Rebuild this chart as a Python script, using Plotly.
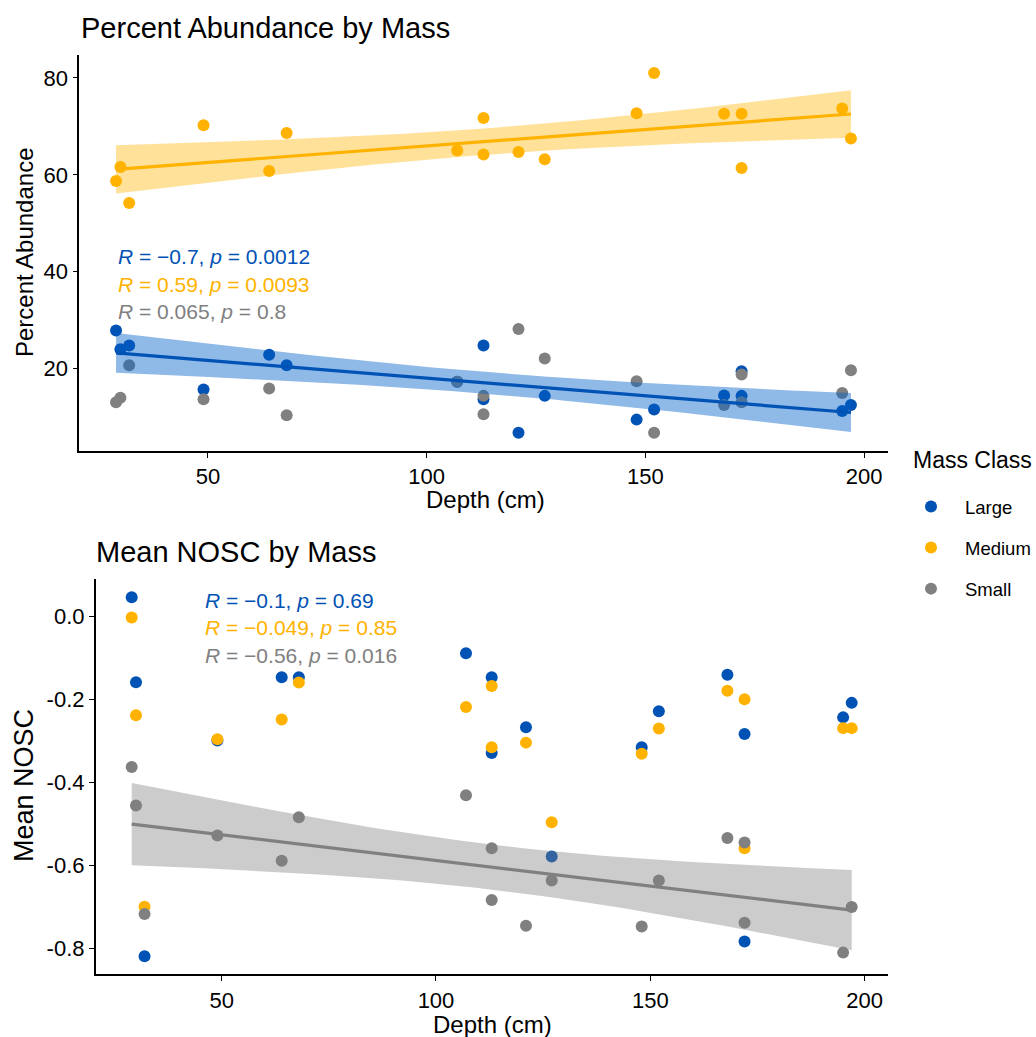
import numpy as np
import plotly.graph_objects as go

# ---------------- data ----------------
depth = [29, 30, 32, 49, 64, 68, 107, 113, 113, 121, 127, 148, 152, 168, 172, 172, 195, 197]

abund_large = [27.9, 24.0, 24.8, 15.7, 22.9, 20.7, 17.3, 13.7, 24.8, 6.8, 14.4, 9.5, 11.6, 14.5, 14.4, 19.5, 11.3, 12.5]
abund_medium = [58.7, 61.6, 54.2, 70.2, 60.8, 68.6, 65.0, 71.7, 64.2, 64.7, 63.2, 72.7, 81.0, 72.6, 72.6, 61.4, 73.7, 67.5]
abund_small = [13.1, 14.0, 20.7, 13.7, 15.9, 10.4, 17.3, 14.4, 10.6, 28.2, 22.1, 17.4, 6.8, 12.5, 13.1, 18.8, 15.0, 19.7]

nosc_large = [0.047, -0.158, -0.82, -0.299, -0.146, -0.146, -0.088, -0.146, -0.329, -0.267, -0.579, -0.315, -0.228, -0.14, -0.283, -0.784, -0.243, -0.208]
nosc_medium = [-0.002, -0.238, -0.70, -0.296, -0.248, -0.159, -0.218, -0.167, -0.315, -0.304, -0.496, -0.331, -0.27, -0.179, -0.199, -0.559, -0.269, -0.269]
nosc_small = [-0.363, -0.456, -0.718, -0.528, -0.589, -0.484, -0.431, -0.559, -0.684, -0.746, -0.637, -0.748, -0.637, -0.534, -0.545, -0.739, -0.811, -0.701]

classes = ["Large", "Medium", "Small"]
colors = {"Large": "#0052B4", "Medium": "#FFB300", "Small": "#808080"}
fills = {"Large": "rgba(0,95,200,0.44)", "Medium": "rgba(255,179,0,0.4)", "Small": "rgba(128,128,128,0.4)"}

top_stats = {"Large": "<i>R</i> = \u22120.7, <i>p</i> = 0.0012",
             "Medium": "<i>R</i> = 0.59, <i>p</i> = 0.0093",
             "Small": "<i>R</i> = 0.065, <i>p</i> = 0.8"}
bot_stats = {"Large": "<i>R</i> = \u22120.1, <i>p</i> = 0.69",
             "Medium": "<i>R</i> = \u22120.049, <i>p</i> = 0.85",
             "Small": "<i>R</i> = \u22120.56, <i>p</i> = 0.016"}

top_smooth = ["Large", "Medium"]
bot_smooth = ["Small"]

T_CRIT = 2.1199  # t(0.975, df=16)

W, H = 1036, 1037
FONT = "Liberation Sans, Arial, sans-serif"


def px_x(p):
    return p / W


def px_y(p):
    return 1 - p / H


def lm_band(x, y, n_pts=80):
    x = np.asarray(x, float)
    y = np.asarray(y, float)
    n = len(x)
    b, a = np.polyfit(x, y, 1)
    resid = y - (a + b * x)
    s = np.sqrt(np.sum(resid ** 2) / (n - 2))
    xbar = x.mean()
    sxx = np.sum((x - xbar) ** 2)
    xs = np.linspace(x.min(), x.max(), n_pts)
    fit = a + b * xs
    se = s * np.sqrt(1 / n + (xs - xbar) ** 2 / sxx)
    return xs, fit, fit - T_CRIT * se, fit + T_CRIT * se


fig = go.Figure()

panels = [
    ("x", "y", {"Large": abund_large, "Medium": abund_medium, "Small": abund_small}, top_smooth, True),
    ("x2", "y2", {"Large": nosc_large, "Medium": nosc_medium, "Small": nosc_small}, bot_smooth, False),
]

ranges = []
for xa, ya, series, smooth, show in panels:
    ymin = min(min(v) for v in series.values())
    ymax = max(max(v) for v in series.values())
    for c in classes:
        fig.add_trace(go.Scatter(
            x=depth, y=series[c], mode="markers", name=c, xaxis=xa, yaxis=ya,
            marker=dict(color=colors[c], size=12, line=dict(width=0)),
            legendgroup=c, showlegend=show))
    bands = {}
    for c in smooth:
        xs, fit, lo, hi = lm_band(depth, series[c])
        bands[c] = (xs, fit)
        ymin = min(ymin, lo.min())
        ymax = max(ymax, hi.max())
        fig.add_trace(go.Scatter(
            x=list(xs) + list(xs[::-1]), y=list(hi) + list(lo[::-1]),
            fill="toself", fillcolor=fills[c], line=dict(width=0),
            mode="lines", xaxis=xa, yaxis=ya, showlegend=False, hoverinfo="skip"))
    for c in smooth:
        xs, fit = bands[c]
        fig.add_trace(go.Scatter(
            x=xs, y=fit, mode="lines", line=dict(color=colors[c], width=3.2),
            xaxis=xa, yaxis=ya, showlegend=False))
    span = ymax - ymin
    ranges.append([ymin - 0.05 * span, ymax + 0.05 * span])

xspan = max(depth) - min(depth)
xrange = [min(depth) - 0.05 * xspan, max(depth) + 0.05 * xspan]

axis_common = dict(showgrid=False, zeroline=False, showline=True, linecolor="black", linewidth=1.6,
                   ticks="outside", ticklen=5, tickwidth=1.4, tickcolor="black",
                   tickfont=dict(family=FONT, size=22, color="black"))

fig.update_layout(
    width=W, height=H, margin=dict(l=0, r=0, t=0, b=0),
    paper_bgcolor="white", plot_bgcolor="white",
    font=dict(family=FONT, color="black"),
    xaxis=dict(domain=[px_x(79.3), px_x(887.7)], anchor="y", range=xrange,
               tickvals=[50, 100, 150, 200], **axis_common),
    yaxis=dict(domain=[px_y(450.7), px_y(55)], anchor="x", range=ranges[0],
               tickvals=[20, 40, 60, 80], **axis_common),
    xaxis2=dict(domain=[px_x(95.7), px_x(887.7)], anchor="y2", range=xrange,
                tickvals=[50, 100, 150, 200], **axis_common),
    yaxis2=dict(domain=[px_y(974.3), px_y(579.3)], anchor="x2", range=ranges[1],
                tickvals=[-0.8, -0.6, -0.4, -0.2, 0.0],
                ticktext=["-0.8", "-0.6", "-0.4", "-0.2", "0.0"], **axis_common),
    legend=dict(font=dict(family=FONT, size=18.5), x=px_x(897), y=px_y(488),
                xanchor="left", yanchor="top", tracegroupgap=14, itemwidth=58,
                itemsizing="constant", bgcolor="rgba(0,0,0,0)"),
    showlegend=True,
)

annots = []
# titles
annots.append(dict(text="Percent Abundance by Mass", x=px_x(79), y=px_y(28), xanchor="left", yanchor="middle",
                   font=dict(size=29)))
annots.append(dict(text="Mean NOSC by Mass", x=px_x(94), y=px_y(552), xanchor="left", yanchor="middle",
                   font=dict(size=29)))
# legend title
annots.append(dict(text="Mass Class", x=px_x(911), y=px_y(460), xanchor="left", yanchor="middle",
                   font=dict(size=23)))
# axis titles
annots.append(dict(text="Depth (cm)", x=px_x(485), y=px_y(500), xanchor="center", yanchor="middle",
                   font=dict(size=24)))
annots.append(dict(text="Depth (cm)", x=px_x(492), y=px_y(1024), xanchor="center", yanchor="middle",
                   font=dict(size=24)))
annots.append(dict(text="Percent Abundance", x=px_x(24), y=px_y(252), xanchor="center", yanchor="middle",
                   textangle=-90, font=dict(size=24)))
annots.append(dict(text="Mean NOSC", x=px_x(24), y=px_y(786), xanchor="center", yanchor="middle",
                   textangle=-90, font=dict(size=27)))
# stats
for i, c in enumerate(classes):
    annots.append(dict(text=top_stats[c], x=px_x(116), y=px_y(256.7 + 27.5 * i), xanchor="left",
                       yanchor="middle", font=dict(size=21, color=colors[c])))
    annots.append(dict(text=bot_stats[c], x=px_x(203), y=px_y(600 + 27.8 * i), xanchor="left",
                       yanchor="middle", font=dict(size=21, color=colors[c])))
for a in annots:
    a.update(xref="paper", yref="paper", showarrow=False)
    a["font"].setdefault("family", FONT)
    a["font"].setdefault("color", "black")
fig.update_layout(annotations=annots)

fig.write_html("out.html")
